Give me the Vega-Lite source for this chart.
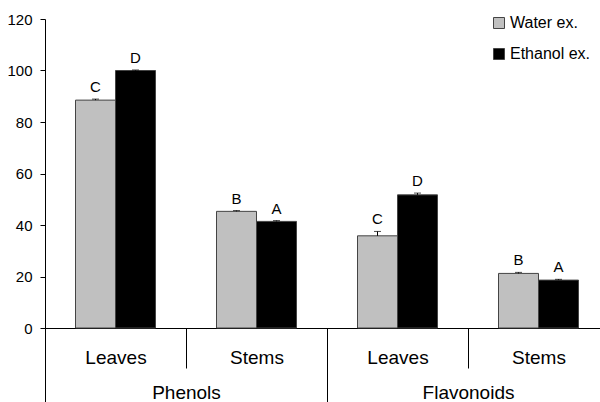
{
  "$schema": "https://vega.github.io/schema/vega-lite/v6.json",
  "autosize": {"type": "none"},
  "padding": {"left": 45, "top": 19, "right": 0, "bottom": 74},
  "width": 555,
  "height": 309,
  "config": {
    "font": "Liberation Sans",
    "view": {"stroke": null},
    "axis": {"domainColor": "#000", "tickColor": "#000", "labelColor": "#000", "grid": false, "domainWidth": 1, "tickWidth": 1}
  },
  "data": {
    "values": [
      {"group": "Phenols", "cat": "Phenols|Leaves", "series": "Water ex.", "value": 88.5, "upper": 88.9, "letter": "C"},
      {"group": "Phenols", "cat": "Phenols|Leaves", "series": "Ethanol ex.", "value": 100, "upper": 100.2, "letter": "D"},
      {"group": "Phenols", "cat": "Phenols|Stems", "series": "Water ex.", "value": 45.3, "upper": 45.6, "letter": "B"},
      {"group": "Phenols", "cat": "Phenols|Stems", "series": "Ethanol ex.", "value": 41.4, "upper": 41.7, "letter": "A"},
      {"group": "Flavonoids", "cat": "Flavonoids|Leaves", "series": "Water ex.", "value": 35.8, "upper": 37.5, "letter": "C"},
      {"group": "Flavonoids", "cat": "Flavonoids|Leaves", "series": "Ethanol ex.", "value": 51.7, "upper": 52.4, "letter": "D"},
      {"group": "Flavonoids", "cat": "Flavonoids|Stems", "series": "Water ex.", "value": 21.2, "upper": 21.6, "letter": "B"},
      {"group": "Flavonoids", "cat": "Flavonoids|Stems", "series": "Ethanol ex.", "value": 18.6, "upper": 18.9, "letter": "A"}
    ]
  },
  "layer": [
    {
      "encoding": {
        "x": {
          "field": "cat", "type": "nominal",
          "scale": {"domain": ["Phenols|Leaves", "Phenols|Stems", "Flavonoids|Leaves", "Flavonoids|Stems"], "range": [0, 564], "paddingInner": 0, "paddingOuter": 0},
          "axis": {"title": null, "orient": "bottom", "labelExpr": "split(datum.value, '|')[1]", "tickBand": "extent", "tickSize": 40, "labelFontSize": 19, "labelPadding": -20, "labelAngle": 0}
        },
        "xOffset": {"field": "series", "type": "nominal", "scale": {"domain": ["Water ex.", "Ethanol ex."], "paddingInner": 0, "paddingOuter": 0.7625}},
        "y": {
          "field": "value", "type": "quantitative",
          "scale": {"domain": [0, 120], "nice": false},
          "axis": {"title": null, "values": [0, 20, 40, 60, 80, 100, 120], "tickSize": 5, "labelPadding": 8, "labelFontSize": 15}
        }
      },
      "layer": [
        {
          "mark": {"type": "bar", "stroke": "#444", "strokeWidth": 1},
          "encoding": {
            "color": {
              "field": "series", "type": "nominal",
              "scale": {"domain": ["Water ex.", "Ethanol ex."], "range": ["#c0c0c0", "#000000"]},
              "legend": {"title": null, "orient": "none", "legendX": 446, "legendY": -4, "symbolType": "square", "symbolSize": 121, "symbolStrokeColor": "#444", "symbolStrokeWidth": 1, "labelFontSize": 16, "labelColor": "#000", "rowPadding": 15, "padding": 0, "labelOffset": 3}
            }
          }
        },
        {
          "mark": {"type": "rule", "color": "#000", "strokeWidth": 1},
          "encoding": {"y2": {"field": "upper"}}
        },
        {
          "mark": {"type": "tick", "color": "#000", "size": 7, "thickness": 1},
          "encoding": {"y": {"field": "upper", "type": "quantitative"}}
        },
        {
          "mark": {"type": "text", "fontSize": 15, "color": "#000", "baseline": "alphabetic", "dy": -7},
          "encoding": {"y": {"field": "upper", "type": "quantitative"}, "text": {"field": "letter"}}
        }
      ]
    },
    {
      "mark": {"type": "point", "opacity": 0},
      "encoding": {
        "x": {
          "field": "group", "type": "nominal",
          "scale": {"domain": ["Phenols", "Flavonoids"], "range": [0, 564], "paddingInner": 0, "paddingOuter": 0},
          "axis": {"title": null, "orient": "bottom", "domain": false, "tickBand": "extent", "tickSize": 74, "labelFontSize": 19, "labelPadding": -19, "labelAngle": 0}
        },
        "y": {"field": "value", "type": "quantitative"}
      }
    }
  ],
  "resolve": {"scale": {"x": "independent"}}
}
